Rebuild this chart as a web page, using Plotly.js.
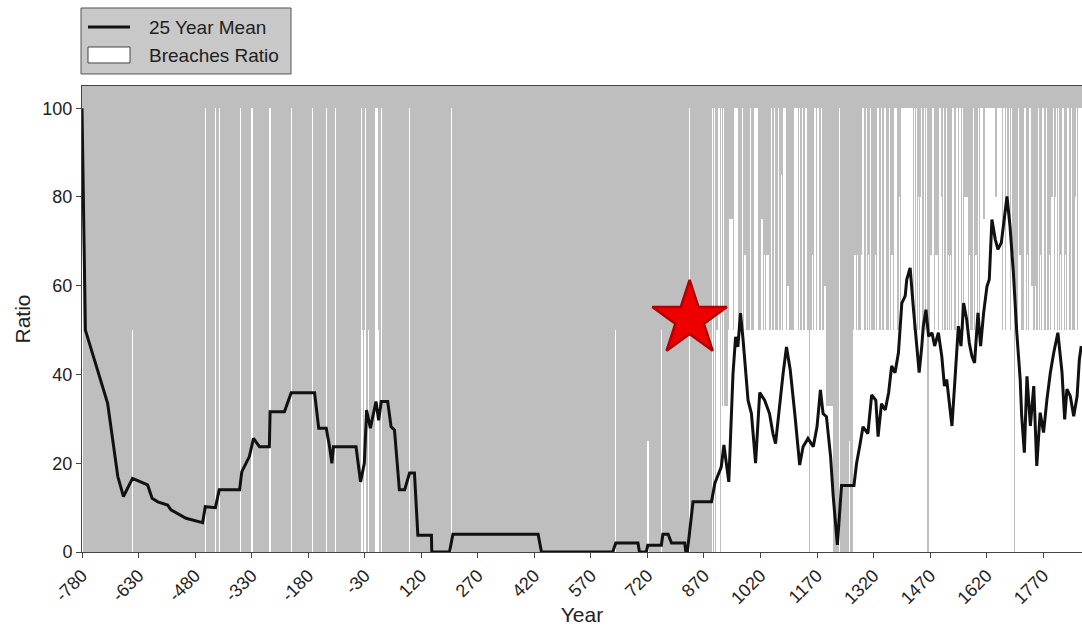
<!DOCTYPE html>
<html>
<head>
<meta charset="utf-8">
<script src="https://cdn.plot.ly/plotly-3.0.1.min.js"></script>
<style>
  html, body { margin: 0; padding: 0; background: #ffffff; }
  #chart { width: 1082px; height: 627px; }
</style>
</head>
<body>
<div id="chart"></div>
<script>
// ---- Single breach years (year, ratio in %) ----
const breachYears = [
  -780, -646, -453, -426, -415, -360, -331, -327, -281, -225, -168, -132, -108,
  -39, -35, -31, -28, -20, -1, 3, 7, 14, 89, 200, 636, 722, 757, 832,
  893, 898, 905, 910, 916, 917, 922, 939, 943, 946, 952, 953, 958, 972, 973, 979, 993, 994,
  1005, 1006, 1008, 1011, 1024, 1031, 1036, 1040, 1049, 1050, 1058, 1067, 1075, 1082, 1083, 1087,
  1093, 1111, 1112, 1117, 1124, 1132, 1140, 1141, 1158, 1164, 1165, 1173, 1182, 1191, 1230, 1256,
  1271, 1278, 1288, 1292, 1293, 1301, 1306, 1312, 1325, 1332, 1333, 1341, 1350, 1362, 1369,
  1376, 1377, 1381, 1388, 1394, 1398, 1403, 1409, 1414, 1418, 1421, 1422, 1428, 1434, 1440, 1445,
  1447, 1455, 1461, 1472, 1478, 1484, 1488, 1496, 1501, 1505, 1514, 1519, 1524, 1531, 1540, 1541,
  1549, 1556, 1563, 1568, 1574, 1585, 1592, 1598, 1603, 1607, 1608, 1613, 1618, 1622, 1626, 1629,
  1630, 1634, 1637, 1641, 1645, 1648, 1652, 1655, 1656, 1660, 1664, 1668, 1672, 1677, 1681, 1686,
  1690, 1704, 1709, 1722, 1728, 1735, 1740, 1750, 1757, 1763, 1770, 1779, 1786, 1793, 1797, 1802,
  1806, 1811, 1816, 1823, 1830, 1836, 1845, 1855, 1859, 1863, 1868, 1872];
const breachRatios = [
  100, 50, 100, 100, 100, 100, 100, 100, 100, 100, 100, 100, 100,
  100, 50, 50, 100, 50, 100, 100, 50, 100, 100, 100, 50, 25, 50, 100,
  100, 100, 50, 100, 100, 100, 100, 75, 75, 75, 100, 100, 100, 100, 100, 67, 100, 100,
  100, 100, 75, 100, 75, 67, 67, 67, 100, 100, 100, 100, 85, 100, 100, 100,
  60, 100, 100, 100, 100, 100, 100, 100, 67, 100, 100, 100, 100, 60, 100, 25,
  67, 67, 67, 100, 100, 100, 67, 100, 67, 100, 100, 100, 100, 100, 67,
  100, 100, 100, 80, 100, 100, 100, 100, 100, 100, 100, 100, 100, 100, 80, 80,
  100, 100, 100, 67, 100, 67, 67, 100, 80, 100, 100, 67, 67, 100, 100, 100,
  100, 100, 80, 80, 67, 100, 67, 100, 100, 100, 100, 75, 100, 100, 100, 100,
  100, 100, 100, 100, 80, 100, 100, 100, 100, 100, 100, 100, 100, 80, 100, 100,
  67, 100, 67, 100, 67, 100, 60, 60, 100, 67, 100, 100, 67, 80, 100, 80,
  100, 100, 67, 100, 67, 100, 100, 80, 100, 100, 100, 100];

// ---- Spans of consecutive years with a common breaches ratio ----
const runFrom  = [916, 936, 968, 1019, 1063, 1104, 1125, 1153, 1191, 1267, 1287, 1320, 1469, 1537,
                  1583, 1698, 1718, 1746, 1777, 1852];
const runTo    = [935, 964, 1014, 1059, 1099, 1121, 1147, 1187, 1210, 1282, 1316, 1461, 1533, 1579,
                  1692, 1714, 1742, 1773, 1847, 1873];
const runRatio = [33, 50, 50, 50, 50, 50, 50, 50, 33, 50, 50, 50, 50, 50,
                  50, 50, 50, 50, 50, 50];

// ---- 25 year running mean ----
const meanYears = [-780, -771, -712, -685, -670, -646, -606, -594, -579, -553, -544, -504, -460, -453,
  -426, -416, -362, -356, -336, -325, -309, -283, -281, -243, -225, -163, -152, -132, -124, -117,
  -113, -53, -41, -31, -25, -15, 0, 7, 14, 31, 40, 49, 62, 76, 89, 102, 111, 147, 148, 195, 204,
  430, 439, 628, 636, 695, 699, 717, 721, 757, 761, 775, 784, 819, 822, 826, 841, 890, 899, 916,
  923, 930, 936, 947, 954, 960, 967, 974, 987, 996, 1007, 1018, 1031, 1044, 1053, 1060, 1069,
  1080, 1089, 1099, 1111, 1124, 1133, 1146, 1160, 1170, 1179, 1186, 1195, 1206, 1213, 1224, 1230,
  1235, 1268, 1275, 1283, 1292, 1305, 1315, 1326, 1332, 1341, 1351, 1360, 1368, 1377, 1386, 1395,
  1404, 1408, 1417, 1426, 1435, 1441, 1448, 1452, 1459, 1466, 1475, 1482, 1492, 1501, 1508, 1514,
  1519, 1528, 1536, 1545, 1552, 1559, 1567, 1574, 1581, 1588, 1597, 1604, 1612, 1621, 1627, 1634,
  1643, 1650, 1659, 1668, 1674, 1682, 1691, 1700, 1709, 1713, 1720, 1727, 1736, 1745, 1753, 1762,
  1771, 1780, 1789, 1798, 1809, 1820, 1827, 1833, 1842, 1851, 1860, 1866, 1871];
const meanValues = [100, 50, 33.5, 17, 12.5, 16.6, 15.1, 12.1, 11.3, 10.6, 9.5, 7.6, 6.6, 10.2,
  10, 14, 14, 18.1, 21.5, 25.6, 23.7, 23.7, 31.6, 31.6, 35.9, 35.9, 27.9, 27.9, 24.1, 20,
  23.7, 23.7, 15.8, 20, 32, 27.9, 33.9, 29.7, 33.9, 33.9, 28.2, 27.5, 14, 14, 17.8, 17.8, 3.8, 3.8, 0, 0, 4,
  4, 0, 0, 2, 2, 0, 0, 1.5, 1.5, 4, 4, 2, 2, 0, 0, 11.3, 11.3, 15.5, 19.2,
  24.1, 20, 15.8, 40, 48.5, 46.2, 53.8, 47.7, 34.2, 31.2, 20, 35.9, 34.2, 31.2, 26.7, 24.4, 32,
  40.2, 46.2, 41, 31.2, 19.6, 23.7, 25.6, 23.7, 28.2, 36.5, 31.2, 30.5, 21.5, 12.5, 1.6, 8.8,
  15, 15, 20, 23.7, 28.2, 26.7, 35.4, 34.2, 26, 33.4, 32, 35.9, 41.9, 40.4, 44.9, 56.1,
  57.7, 61.4, 64, 54.6, 45.6, 40.4, 46.4, 50.9, 54.6, 48.6, 49.4, 46.4, 49.4, 44.1, 37.4, 38.9,
  35.1, 28.4, 38.9, 50.9, 46.4, 56.1, 52.4, 47.1, 44.1, 42.6, 53.9, 46.4, 53.9, 59.9, 61.4, 74.9,
  70.4, 68.2, 69.7, 76.4, 80.1, 73.4, 62.9, 49.4, 38.9, 30.6, 22.4, 39.6, 28.4, 37.4, 19.4, 31.4,
  26.9, 34.4, 40.4, 44.9, 49.4, 40.4, 29.9, 36.7, 35.1, 30.6, 35.1, 43.4, 46.4];

// ---- Highlighted event ----
const starYear = [832];
const starRatio = [52.5];

// ---- Axis ticks ----
const yearTicks  = [-780, -630, -480, -330, -180, -30, 120, 270, 420, 570, 720, 870, 1020, 1170, 1320, 1470, 1620, 1770];
const ratioTicks = [0, 20, 40, 60, 80, 100];

const seriesNames = ['25 Year Mean', 'Breaches Ratio'];

// One bar per year: single records first, then the spans (skipping years already recorded)
const barX = [], barY = [];
const seen = new Set(breachYears);
breachYears.forEach((yr, i) => { barX.push(yr); barY.push(breachRatios[i]); });
runFrom.forEach((start, i) => {
  for (let yr = start; yr <= runTo[i]; yr++) {
    if (!seen.has(yr)) { barX.push(yr); barY.push(runRatio[i]); }
  }
});

const FONT = 'Liberation Sans, Arial, Helvetica, sans-serif';
const TXT = '#222222';

const traces = [
  {
    type: 'bar', x: barX, y: barY, width: 1,
    name: seriesNames[1], showlegend: false, hoverinfo: 'x+y',
    marker: { color: '#ffffff', line: { width: 0 } }
  },
  {
    type: 'scatter', mode: 'lines', x: meanYears, y: meanValues,
    name: seriesNames[0], showlegend: false,
    line: { color: '#111111', width: 3, shape: 'linear' }
  },
  {
    type: 'scatter', mode: 'markers', x: starYear, y: starRatio,
    showlegend: false, hoverinfo: 'skip',
    marker: { symbol: 'star', size: 56, color: '#ee0000', line: { color: '#b30000', width: 2.5 } }
  }
];

// Legend box drawn in paper coordinates
const legendShapes = [
  { type: 'rect', xref: 'paper', yref: 'paper', x0: -0.001, x1: 0.209, y0: 1.0258, y1: 1.1674,
    fillcolor: '#c8c8c8', line: { color: '#555555', width: 1 } },
  { type: 'line', xref: 'paper', yref: 'paper', x0: 0.006, x1: 0.048, y0: 1.1266, y1: 1.1266,
    line: { color: '#111111', width: 2.8 } },
  { type: 'rect', xref: 'paper', yref: 'paper', x0: 0.006, x1: 0.048, y0: 1.0494, y1: 1.0837,
    fillcolor: '#ffffff', line: { color: '#444444', width: 1 } }
];
const legendLabels = [
  { xref: 'paper', yref: 'paper', x: 0.065, y: 1.1266, xanchor: 'left', yanchor: 'middle',
    text: seriesNames[0], showarrow: false, font: { family: FONT, size: 19, color: TXT } },
  { xref: 'paper', yref: 'paper', x: 0.065, y: 1.0665, xanchor: 'left', yanchor: 'middle',
    text: seriesNames[1], showarrow: false, font: { family: FONT, size: 19, color: TXT } }
];

const layout = {
  width: 1082, height: 627,
  margin: { l: 82, r: 0, t: 86, b: 75, pad: 0 },
  paper_bgcolor: '#ffffff',
  plot_bgcolor: '#bebebe',
  font: { family: FONT, size: 18, color: TXT },
  barmode: 'overlay', bargap: 0,
  showlegend: false,
  xaxis: {
    range: [-780, 1873], tickvals: yearTicks, ticktext: yearTicks.map(String),
    tickangle: -45, ticks: 'outside', ticklen: 5, tickcolor: '#444444',
    tickfont: { size: 18, color: TXT },
    showline: true, linecolor: '#444444', linewidth: 1, mirror: true,
    showgrid: false, zeroline: false, automargin: false,
    title: { text: 'Year', font: { size: 21, color: TXT }, standoff: 0 }
  },
  yaxis: {
    range: [0, 105], tickvals: ratioTicks, ticks: 'outside', ticklen: 5, tickcolor: '#444444',
    tickfont: { size: 18, color: TXT },
    showline: true, linecolor: '#444444', linewidth: 1, mirror: true,
    showgrid: false, zeroline: false, automargin: false,
    title: { text: 'Ratio', font: { size: 21, color: TXT }, standoff: 6 }
  },
  shapes: legendShapes,
  annotations: legendLabels
};

Plotly.newPlot('chart', traces, layout, { displayModeBar: false, responsive: false });
</script>
</body>
</html>
